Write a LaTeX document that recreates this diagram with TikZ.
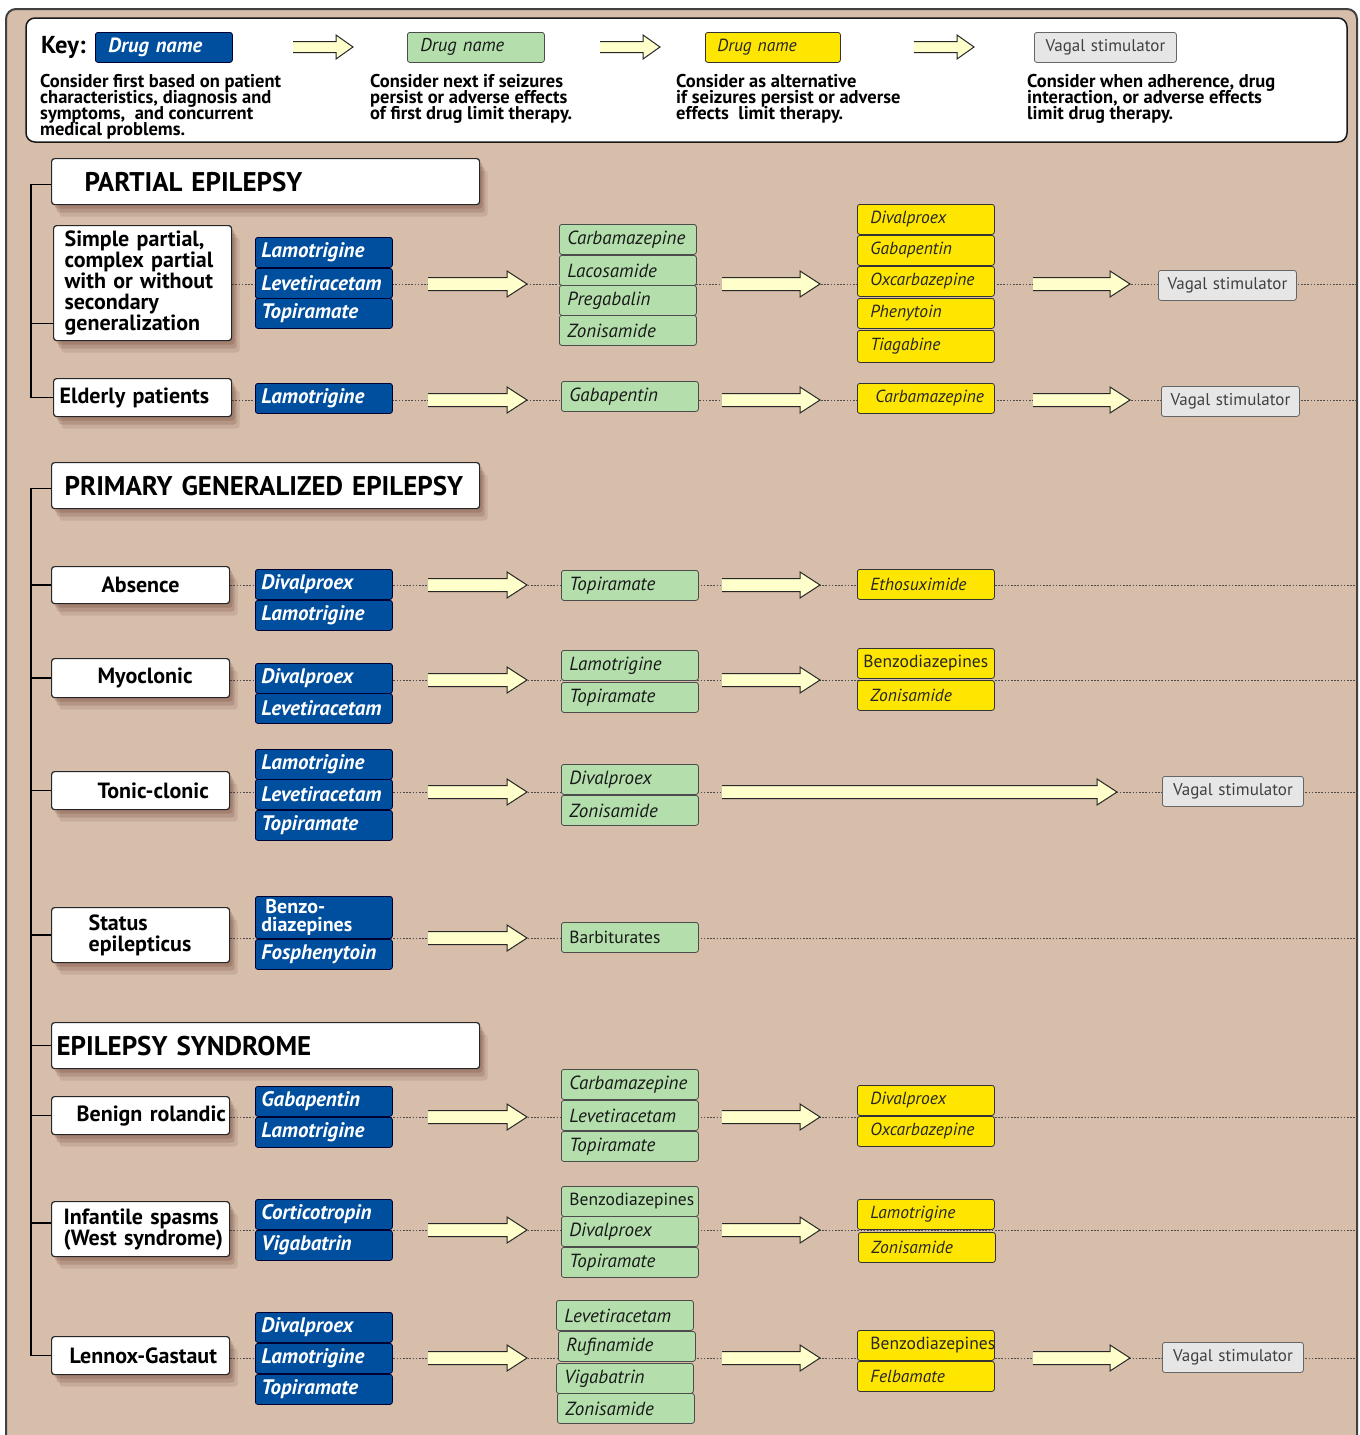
\documentclass[tikz,border=0pt]{standalone}
\usepackage{fontspec}
\setmainfont{PT Sans}
\usetikzlibrary{shadows,calc}
\pgfdeclarelayer{bg}
\pgfsetlayers{bg,main}
\definecolor{tanbg}{RGB}{214,190,171}
\definecolor{dblue}{RGB}{0,78,158}
\definecolor{dgreen}{RGB}{180,223,172}
\definecolor{dyellow}{RGB}{255,230,0}
\definecolor{vgray}{RGB}{230,230,230}
\definecolor{afill}{RGB}{255,255,204}
\definecolor{shadowc}{RGB}{95,45,35}
\newcommand\fs[2]{\fontsize{#1}{#2}\selectfont}
\newcommand\tightlines{\lineskiplimit-30pt\lineskip0pt\relax}
% block arrow between two named coordinates: #1 start, #2 end, #3 body half, #4 head half, #5 head length
\newcommand\blockarrow[5]{%
  \fill[afill] let \p1=(#1), \p2=(#2) in
    (\x1,\y1+#3) -- (\x2-#5,\y1+#3) -- (\x2-#5,\y1+#4) -- (\x2,\y1)
    -- (\x2-#5,\y1-#4) -- (\x2-#5,\y1-#3) -- (\x1,\y1-#3) -- cycle;
  \draw[line width=1pt, draw=black!85, line join=miter] let \p1=(#1), \p2=(#2) in
    (\x1,\y1+#3) -- (\x2-#5,\y1+#3) -- (\x2-#5,\y1+#4) -- (\x2,\y1)
    -- (\x2-#5,\y1-#4) -- (\x2-#5,\y1-#3) -- (\x1,\y1-#3);
}
\newcommand\rowarrow[2]{\blockarrow{#1}{#2}{6.5pt}{13pt}{20pt}}
\newcommand\keyarrow[2]{\blockarrow{#1}{#2}{5.5pt}{12pt}{17pt}}
\tikzset{
  shad/.style={drop shadow={shadow xshift=8pt, shadow yshift=-12pt, fill=shadowc, opacity=0.12},
               drop shadow={shadow xshift=5pt, shadow yshift=-8pt, fill=shadowc, opacity=0.18},
               drop shadow={shadow xshift=3pt, shadow yshift=-4pt, fill=shadowc, opacity=0.2}},
  drug/.style={anchor=north west, rounded corners=2.5pt, line width=0.8pt, minimum height=30pt,
               inner ysep=0pt, align=left},
  bluebox/.style={drug, fill=dblue, draw=black!80!blue, text=white,
               font=\bfseries\itshape\fs{21}{16}, text width=125pt, inner xsep=6pt},
  greenbox/.style={drug, fill=dgreen, draw=black!70, text=black!90,
               font=\itshape\fs{19}{20}, text width=121pt, inner xsep=8pt},
  greenup/.style={greenbox, font=\fs{17.5}{20}},
  yellowbox/.style={drug, fill=dyellow, draw=black!80, text=black!85,
               font=\itshape\fs{17.5}{20}, text width=111pt, inner xsep=13pt},
  vagal/.style={drug, fill=vgray, draw=black!60, text=black!75,
               font=\fs{17}{20}, text width=126pt, inner xsep=6pt, align=center},
  keybox/.style={text width=111pt, inner xsep=13pt},
  catbox/.style={anchor=north west, fill=white, draw=black!85, line width=1.2pt, rounded corners=3pt,
               minimum width=178pt, inner xsep=0pt, inner ysep=0pt, align=left, shad,
               font=\bfseries\fs{22}{21}},
  hdr/.style={anchor=north west, fill=white, draw=black!85, line width=1.2pt, rounded corners=3pt,
               minimum width=428pt, minimum height=46pt, inner xsep=0pt, align=left, shad,
               font=\bfseries\fs{27}{27}},
  desc/.style={anchor=north west, inner sep=0pt, align=left,
               font=\bfseries\fs{18.5}{16}\tightlines},
  dotline/.style={draw=black!70, line width=0.8pt, dash pattern=on 1.6pt off 1.6pt},
  tree/.style={draw=black, line width=1.4pt},
}
\begin{document}
\begin{tikzpicture}[x=1pt,y=-1pt]
\useasboundingbox (0,0) rectangle (1360,1435);
\begin{pgfonlayer}{bg}
  \fill[white] (0,0) rectangle (1360,1435);
  \draw[line width=2pt, draw=black!75, fill=tanbg, rounded corners=10pt]
    (6,1440) -- (6,9) -- (1357,9) -- (1357,1440);
  \draw[fill=white, draw=black!90, line width=1.5pt, rounded corners=9pt] (26,18) rectangle (1347,142);
\end{pgfonlayer}

% ---------------- key ----------------
\node[anchor=west, inner sep=0pt, font=\bfseries\fs{24.5}{24}] (keylbl) at (41,47) {Key:};
\node[bluebox, keybox, font=\bfseries\itshape\fs{20.5}{20}] (kb) at (95,32) {Drug name};
\node[greenbox, keybox, font=\itshape\fs{18.5}{20}] (kg) at (407,32) {Drug name};
\node[yellowbox, keybox, inner xsep=12pt] (ky) at (705,32) {Drug name};
\node[vagal, text width=130pt] (kv) at (1034,32) {Vagal stimulator};
\coordinate (ka1s) at (293,47); \coordinate (ka1e) at (353,47);
\coordinate (ka2s) at (600,47); \coordinate (ka2e) at (660,47);
\coordinate (ka3s) at (914,47); \coordinate (ka3e) at (974,47);
\keyarrow{ka1s}{ka1e} \keyarrow{ka2s}{ka2e} \keyarrow{ka3s}{ka3e}
\node[desc] (d1) at (40,74) {Consider first based on patient\\characteristics, diagnosis and\\symptoms,~ and concurrent\\medical problems.};
\node[desc] (d2) at (370,74) {Consider next if seizures\\persist or adverse effects\\of first drug limit therapy.};
\node[desc] (d3) at (676,74) {Consider as alternative\\if seizures persist or adverse\\effects~ limit therapy.};
\node[desc] (d4) at (1027,74) {Consider when adherence, drug\\interaction, or adverse effects\\limit drug therapy.};

% ---------------- headers ----------------
\node[hdr, text width=362pt] (h1) at (51,158) {PARTIAL EPILEPSY};
\node[hdr, text width=402pt] (h2) at (51,462) {PRIMARY GENERALIZED EPILEPSY};
\node[hdr, text width=418pt] (h3) at (51,1022) {EPILEPSY SYNDROME};

% ---------------- category boxes ----------------
\node[catbox, minimum height=115pt, text width=156pt] (sp) at (53,225) {Simple partial,\\complex partial\\with or without\\secondary\\generalization};
\node[catbox, minimum height=38pt, text width=166pt] (el) at (53,378) {\mbox{Elderly patients}};
\node[catbox, minimum height=37pt, text width=170pt, align=center] (ab) at (51,566) {Absence};
\node[catbox, minimum height=39pt, text width=86pt] (my) at (51,658) {\mbox{Myoclonic}};
\node[catbox, minimum height=38pt, text width=86pt] (tc) at (51,771) {\mbox{Tonic-clonic}};
\node[catbox, minimum height=55pt, text width=104pt] (se) at (51,907) {Status\\epilepticus};
\node[catbox, minimum height=38pt, text width=128pt] (br) at (51,1096) {\mbox{Benign rolandic}};
\node[catbox, minimum height=55pt, text width=154pt] (is) at (51,1201) {\mbox{Infantile spasms}\\\mbox{(West syndrome)}};
\node[catbox, minimum height=38pt, text width=142pt] (lg) at (51,1336) {\mbox{Lennox-Gastaut}};

% ---------------- first-line (blue) ----------------
\node[bluebox] (b11) at (255,237) {Lamotrigine};
\node[bluebox] (b12) at (255,268) {Levetiracetam};
\node[bluebox] (b13) at (255,298) {Topiramate};
\node[bluebox] (b21) at (255,383) {Lamotrigine};
\node[bluebox] (b31) at (255,569) {Divalproex};
\node[bluebox] (b32) at (255,600) {Lamotrigine};
\node[bluebox] (b41) at (255,663) {Divalproex};
\node[bluebox] (b42) at (255,693) {Levetiracetam};
\node[bluebox] (b51) at (255,749) {Lamotrigine};
\node[bluebox] (b52) at (255,779) {Levetiracetam};
\node[bluebox] (b53) at (255,810) {Topiramate};
\node[bluebox, minimum height=42pt, font=\bfseries\fs{20}{18.5}\tightlines] (b61) at (255,896) {\hspace*{4pt}Benzo-\\diazepines};
\node[bluebox] (b62) at (255,939) {Fosphenytoin};
\node[bluebox] (b71) at (255,1086) {Gabapentin};
\node[bluebox] (b72) at (255,1117) {Lamotrigine};
\node[bluebox] (b81) at (255,1199) {Corticotropin};
\node[bluebox] (b82) at (255,1230) {Vigabatrin};
\node[bluebox] (b91) at (255,1312) {Divalproex};
\node[bluebox] (b92) at (255,1343) {Lamotrigine};
\node[bluebox] (b93) at (255,1374) {Topiramate};

% ---------------- next (green) ----------------
\node[greenbox] (g11) at (559,224) {Carbamazepine};
\node[greenbox] (g12) at (559,255) {Lacosamide};
\node[greenbox] (g13) at (559,285) {Pregabalin};
\node[greenbox] (g14) at (559,315) {Zonisamide};
\node[greenbox] (g21) at (561,381) {Gabapentin};
\node[greenbox] (g31) at (561,570) {Topiramate};
\node[greenbox] (g41) at (561,650) {Lamotrigine};
\node[greenbox] (g42) at (561,682) {Topiramate};
\node[greenbox] (g51) at (561,764) {Divalproex};
\node[greenbox] (g52) at (561,795) {Zonisamide};
\node[greenup] (g61) at (561,922) {Barbiturates};
\node[greenbox] (g71) at (561,1069) {Carbamazepine};
\node[greenbox] (g72) at (561,1100) {Levetiracetam};
\node[greenbox] (g73) at (561,1131) {Topiramate};
\node[greenup] (g81) at (561,1186) {Benzodiazepines};
\node[greenbox] (g82) at (561,1216) {Divalproex};
\node[greenbox] (g83) at (561,1247) {Topiramate};
\node[greenbox] (g91) at (556,1300) {Levetiracetam};
\node[greenbox] (g92) at (558,1331) {Rufinamide};
\node[greenbox] (g93) at (556,1363) {Vigabatrin};
\node[greenbox] (g94) at (557,1393) {Zonisamide};

% ---------------- alternative (yellow) ----------------
\node[yellowbox] (y11) at (857,204) {Divalproex};
\node[yellowbox] (y12) at (857,235) {Gabapentin};
\node[yellowbox] (y13) at (857,266) {Oxcarbazepine};
\node[yellowbox] (y14) at (857,298) {Phenytoin};
\node[yellowbox, minimum height=32pt] (y15) at (857,330) {Tiagabine};
\node[yellowbox, text width=101pt, inner xsep=18pt] (y21) at (857,383) {Carbamazepine};
\node[yellowbox] (y31) at (857,569) {Ethosuximide};
\node[yellowbox, font=\fs{17.5}{20}, text width=125pt, inner xsep=6pt] (y41) at (857,648) {Benzodiazepines};
\node[yellowbox] (y42) at (857,680) {Zonisamide};
\node[yellowbox] (y71) at (857,1085) {Divalproex};
\node[yellowbox] (y72) at (857,1116) {Oxcarbazepine};
\node[yellowbox] (y81) at (857,1199) {Lamotrigine};
\node[yellowbox] (y82) at (858,1232) {Zonisamide};
\node[yellowbox, font=\fs{17.5}{20}] (y91) at (857,1330) {Benzodiazepines};
\node[yellowbox] (y92) at (857,1361) {Felbamate};

% ---------------- vagal stimulator ----------------
\node[vagal] (v1) at (1158,270) {Vagal stimulator};
\node[vagal] (v2) at (1161,386) {Vagal stimulator};
\node[vagal, text width=129pt] (v5) at (1162,776) {Vagal stimulator};
\node[vagal, text width=129pt] (v9) at (1162,1342) {Vagal stimulator};

% ---------------- row coordinates ----------------
\coordinate (E) at (1357,0);
\coordinate (trunk) at (31,0);
\coordinate (r1) at (0,284);  \coordinate (r2) at (0,400);
\coordinate (r3) at (0,585);  \coordinate (r4) at (0,680);
\coordinate (r5) at (0,792);  \coordinate (r6) at (0,938);
\coordinate (r7) at (0,1117); \coordinate (r8) at (0,1230);
\coordinate (r9) at (0,1358);
\foreach \r in {1,...,9}{
  \coordinate (A\r s) at (428,0 |- r\r); \coordinate (A\r e) at (527,0 |- r\r);
  \coordinate (B\r s) at (722,0 |- r\r); \coordinate (B\r e) at (820,0 |- r\r);
  \coordinate (C\r s) at (1033,0 |- r\r); \coordinate (C\r e) at (1130,0 |- r\r);
}
\coordinate (L5e) at (1117,0 |- r5);

% ---------------- arrows ----------------
\foreach \r in {1,...,9}{ \rowarrow{A\r s}{A\r e} }
\foreach \r in {1,2,3,4,7,8,9}{ \rowarrow{B\r s}{B\r e} }
\foreach \r in {1,2,9}{ \rowarrow{C\r s}{C\r e} }
\rowarrow{B5s}{L5e}

% ---------------- background connectors ----------------
\begin{pgfonlayer}{bg}
  \draw[dotline] (sp.east |- r1) -- (E |- r1);
  \draw[dotline] (el.east |- r2) -- (E |- r2);
  \draw[dotline] (ab.east |- r3) -- (E |- r3);
  \draw[dotline] (my.east |- r4) -- (E |- r4);
  \draw[dotline] (tc.east |- r5) -- (E |- r5);
  \draw[dotline] (se.east |- r6) -- (E |- r6);
  \draw[dotline] (br.east |- r7) -- (E |- r7);
  \draw[dotline] (is.east |- r8) -- (E |- r8);
  \draw[dotline] (lg.east |- r9) -- (E |- r9);
  % tree
  \draw[tree] ([yshift=-3pt]h1.west) -- ([yshift=-3pt]h1.west -| trunk) -- (el.west -| trunk) -- (el.west);
  \draw[tree] ([yshift=-40.5pt]sp.west -| trunk) -- ([yshift=-40.5pt]sp.west);
  \draw[tree] ([yshift=-3pt]h2.west) -- ([yshift=-3pt]h2.west -| trunk) -- (lg.west -| trunk) -- (lg.west);
  \foreach \n in {ab,my,tc,se,h3,br,lg}{ \draw[tree] (\n.west -| trunk) -- (\n.west); }
  \draw[tree] ([yshift=6pt]is.west -| trunk) -- ([yshift=6pt]is.west);
\end{pgfonlayer}
\end{tikzpicture}
\end{document}
